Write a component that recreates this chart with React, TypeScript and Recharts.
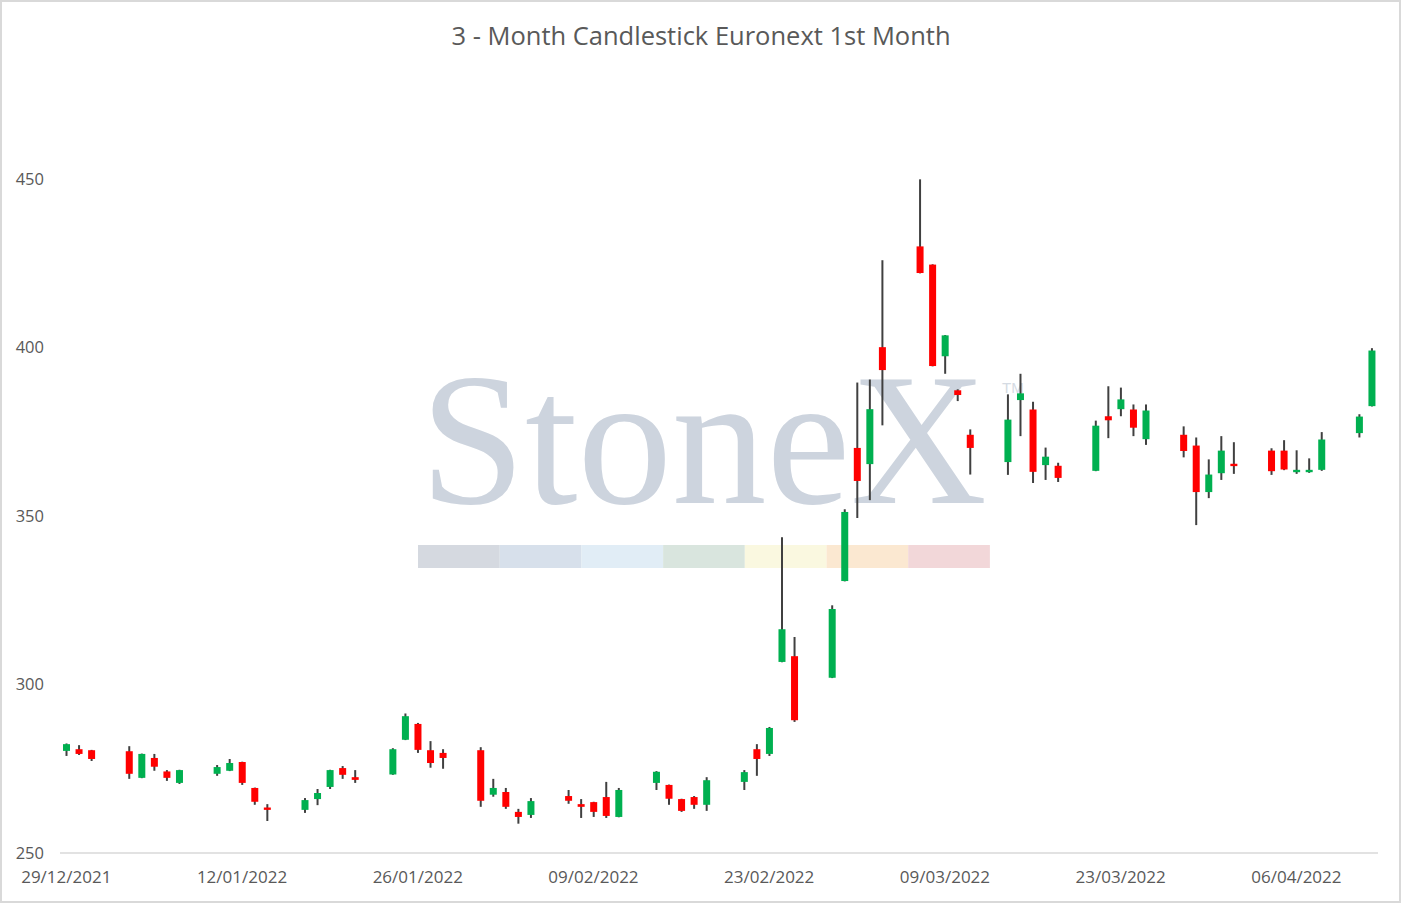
import React from 'react';
import { ComposedChart, Bar, XAxis, YAxis } from 'recharts';

const dates = [
  '29/12/2021', '30/12/2021', '31/12/2021',
  '03/01/2022', '04/01/2022', '05/01/2022', '06/01/2022', '07/01/2022',
  '10/01/2022', '11/01/2022', '12/01/2022', '13/01/2022', '14/01/2022',
  '17/01/2022', '18/01/2022', '19/01/2022', '20/01/2022', '21/01/2022',
  '24/01/2022', '25/01/2022', '26/01/2022', '27/01/2022', '28/01/2022',
  '31/01/2022', '01/02/2022', '02/02/2022', '03/02/2022', '04/02/2022',
  '07/02/2022', '08/02/2022', '09/02/2022', '10/02/2022', '11/02/2022',
  '14/02/2022', '15/02/2022', '16/02/2022', '17/02/2022', '18/02/2022',
  '21/02/2022', '22/02/2022', '23/02/2022', '24/02/2022', '25/02/2022',
  '28/02/2022', '01/03/2022', '02/03/2022', '03/03/2022', '04/03/2022',
  '07/03/2022', '08/03/2022', '09/03/2022', '10/03/2022', '11/03/2022',
  '14/03/2022', '15/03/2022', '16/03/2022', '17/03/2022', '18/03/2022',
  '21/03/2022', '22/03/2022', '23/03/2022', '24/03/2022', '25/03/2022',
  '28/03/2022', '29/03/2022', '30/03/2022', '31/03/2022', '01/04/2022',
  '04/04/2022', '05/04/2022', '06/04/2022', '07/04/2022', '08/04/2022',
  '11/04/2022', '12/04/2022',
];

const opens = [
  280.3, 280.8, 280.5,
  280.2, 272.3, 278.2, 274.2, 270.8,
  273.5, 274.4, 277.0, 269.3, 263.5,
  262.8, 266.0, 269.6, 275.2, 272.5,
  273.3, 283.6, 288.3, 280.5, 279.7,
  280.5, 267.3, 268.1, 262.2, 261.3,
  266.9, 264.5, 265.1, 266.6, 260.7,
  270.8, 270.2, 266.0, 266.6, 264.3,
  271.1, 280.8, 279.4, 306.7, 308.4,
  302.0, 330.7, 370.2, 365.4, 400.1,
  430.0, 424.6, 397.4, 387.3, 374.1,
  366.0, 384.4, 381.6, 365.1, 364.9,
  363.4, 379.6, 381.7, 381.6, 372.8,
  374.1, 370.9, 357.1, 362.7, 365.5,
  369.4, 369.4, 363.0, 363.0, 363.7,
  374.6, 382.6,
];

const highs = [
  282.5, 282.0, 280.6,
  281.7, 279.5, 279.4, 274.6, 274.7,
  276.1, 277.9, 277.1, 269.4, 264.5,
  266.3, 269.0, 274.7, 275.8, 274.6,
  281.1, 291.4, 288.6, 283.2, 280.8,
  281.4, 272.0, 269.3, 263.1, 266.3,
  268.7, 266.0, 265.2, 271.1, 269.3,
  274.3, 270.3, 266.1, 266.9, 272.5,
  274.6, 282.3, 287.4, 343.7, 314.1,
  323.5, 352.0, 389.6, 390.5, 425.9,
  449.9, 424.7, 403.7, 387.6, 375.7,
  386.1, 392.2, 383.9, 370.3, 365.8,
  378.3, 388.5, 388.1, 383.1, 383.1,
  376.6, 373.3, 366.8, 373.7, 371.9,
  370.1, 372.5, 369.5, 367.1, 374.9,
  380.2, 399.8,
];

const lows = [
  278.8, 279.1, 277.3,
  272.0, 272.2, 274.4, 271.4, 270.5,
  272.9, 274.3, 270.2, 264.3, 259.5,
  261.9, 264.2, 269.0, 272.0, 270.8,
  273.2, 283.5, 279.7, 275.3, 275.0,
  263.7, 266.7, 263.1, 258.7, 260.4,
  264.6, 260.4, 260.7, 260.4, 260.6,
  268.7, 264.3, 262.2, 263.1, 262.5,
  268.7, 272.9, 278.8, 306.6, 288.9,
  301.9, 330.6, 349.4, 354.7, 376.9,
  422.0, 394.4, 392.2, 384.1, 362.3,
  362.2, 373.7, 359.8, 360.7, 360.1,
  363.3, 373.1, 379.6, 373.7, 371.1,
  367.4, 347.3, 355.3, 360.7, 362.5,
  362.2, 363.6, 362.5, 362.8, 363.4,
  373.3, 382.5,
];

const closes = [
  282.3, 279.4, 277.9,
  273.5, 279.4, 275.6, 272.3, 274.6,
  275.5, 276.7, 270.8, 265.2, 262.8,
  265.7, 267.8, 274.6, 273.2, 271.7,
  280.8, 290.6, 280.6, 276.7, 278.2,
  265.5, 269.3, 263.7, 260.7, 265.4,
  265.5, 263.7, 262.2, 261.0, 268.7,
  274.1, 266.1, 262.5, 264.3, 271.6,
  274.0, 277.9, 287.1, 316.4, 289.4,
  322.4, 351.2, 360.4, 381.7, 393.3,
  422.1, 394.5, 403.6, 385.9, 370.2,
  378.6, 386.4, 363.1, 367.6, 361.3,
  376.8, 378.4, 384.6, 376.2, 381.3,
  369.3, 357.1, 362.3, 369.4, 364.8,
  363.3, 363.8, 363.7, 363.7, 372.7,
  379.5, 399.1,
];

const xTickLabels = [
  '29/12/2021', '12/01/2022', '26/01/2022', '09/02/2022',
  '23/02/2022', '09/03/2022', '23/03/2022', '06/04/2022',
];

const yTicks = [250, 300, 350, 400, 450];

const title = '3 - Month Candlestick Euronext 1st Month';

const UP = '#00B050';
const DOWN = '#FF0000';
const WICK = '#404040';
const TEXT = '#595959';
const FONT = '"Open Sans", "Noto Sans", sans-serif';

const parseDate = (s: string) => {
  const [d, m, y] = s.split('/').map(Number);
  return Date.UTC(y, m - 1, d);
};
const DAY = 86400000;
const origin = parseDate(dates[0]);
const dayIndex = (s: string) => Math.round((parseDate(s) - origin) / DAY);

const data = dates.map((d, i) => ({
  date: d,
  t: dayIndex(d),
  open: opens[i],
  high: highs[i],
  low: lows[i],
  close: closes[i],
  range: [lows[i], highs[i]],
}));

const xTicks = xTickLabels.map(dayIndex);
const labelByTick: Record<number, string> = {};
xTickLabels.forEach((l) => {
  labelByTick[dayIndex(l)] = l;
});
const lastT = dayIndex(dates[dates.length - 1]);

const Candle = (props: any) => {
  const { x, y, width, height, payload } = props;
  if (x == null || y == null || !payload) return null;
  const { open, close, high, low } = payload;
  const top = Math.min(y, y + height);
  const h = Math.abs(height);
  const span = high - low;
  const toY = (v: number) => (span === 0 ? top : top + ((high - v) / span) * h);
  const cx = x + width / 2;
  const bodyTop = toY(Math.max(open, close));
  const bodyBot = toY(Math.min(open, close));
  const bw = 7;
  const up = close >= open;
  return (
    <g>
      <line x1={cx} x2={cx} y1={top} y2={top + h} stroke={WICK} strokeWidth={2} />
      <rect
        x={cx - bw / 2}
        y={bodyTop}
        width={bw}
        height={Math.max(bodyBot - bodyTop, 1.5)}
        fill={up ? UP : DOWN}
      />
    </g>
  );
};

const stripColors = ['#D0D5DD', '#D3DDE9', '#DEEBF5', '#D5E2DA', '#F9F7DD', '#FBE6CC', '#F1D3D5'];

const Background = () => (
  <svg width={1401} height={903} style={{ position: 'absolute', left: 0, top: 0 }}>
    <rect x={0} y={0} width={1401} height={903} fill="#FFFFFF" />
    <text
      x={701}
      y={45}
      textAnchor="middle"
      fontFamily={FONT}
      fontSize={25.5}
      fill={TEXT}
    >
      {title}
    </text>
    <text
      x={420}
      y={503}
      fontFamily='"Liberation Serif", "DejaVu Serif", serif'
      fontSize={189}
      fill="#CDD4DE"
    >
      StoneX
    </text>
    <text
      x={1002}
      y={393}
      fontFamily='"Liberation Sans", sans-serif'
      fontSize={15}
      fill="#D5DBE3"
    >
      TM
    </text>
    {stripColors.map((c, i) => (
      <rect key={c} x={418 + i * 81.7} y={545} width={81.7} height={23} fill={c} opacity={0.9} />
    ))}
  </svg>
);

export default function App() {
  return (
    <div style={{ position: 'absolute', left: 0, top: 0, width: 1401, height: 903, background: '#fff' }}>
      <Background />
      <div style={{ position: 'absolute', left: 0, top: 0 }}>
        <ComposedChart
          width={1401}
          height={903}
          data={data}
          margin={{ top: 179, right: 23, bottom: 20, left: 0 }}
        >
          <XAxis
            dataKey="t"
            type="number"
            scale="linear"
            domain={[-0.5, lastT + 0.5]}
            ticks={xTicks}
            tickFormatter={(v: number) => labelByTick[v] ?? ''}
            axisLine={{ stroke: '#D9D9D9', strokeWidth: 1.5 }}
            tickLine={false}
            tickMargin={12}
            height={30}
            interval={0}
            tick={{ fill: TEXT, fontSize: 17, fontFamily: FONT }}
          />
          <YAxis
            type="number"
            domain={[250, 450]}
            ticks={yTicks}
            axisLine={false}
            tickLine={false}
            tickMargin={10}
            width={60}
            interval={0}
            tick={{ fill: TEXT, fontSize: 16.5, fontFamily: FONT }}
          />
          <Bar dataKey="range" barSize={7} shape={<Candle />} isAnimationActive={false} />
        </ComposedChart>
      </div>
      <div
        style={{
          position: 'absolute',
          left: 0,
          top: 0,
          width: 1401,
          height: 903,
          border: '2px solid #D9D9D9',
          boxSizing: 'border-box',
          pointerEvents: 'none',
        }}
      />
    </div>
  );
}
